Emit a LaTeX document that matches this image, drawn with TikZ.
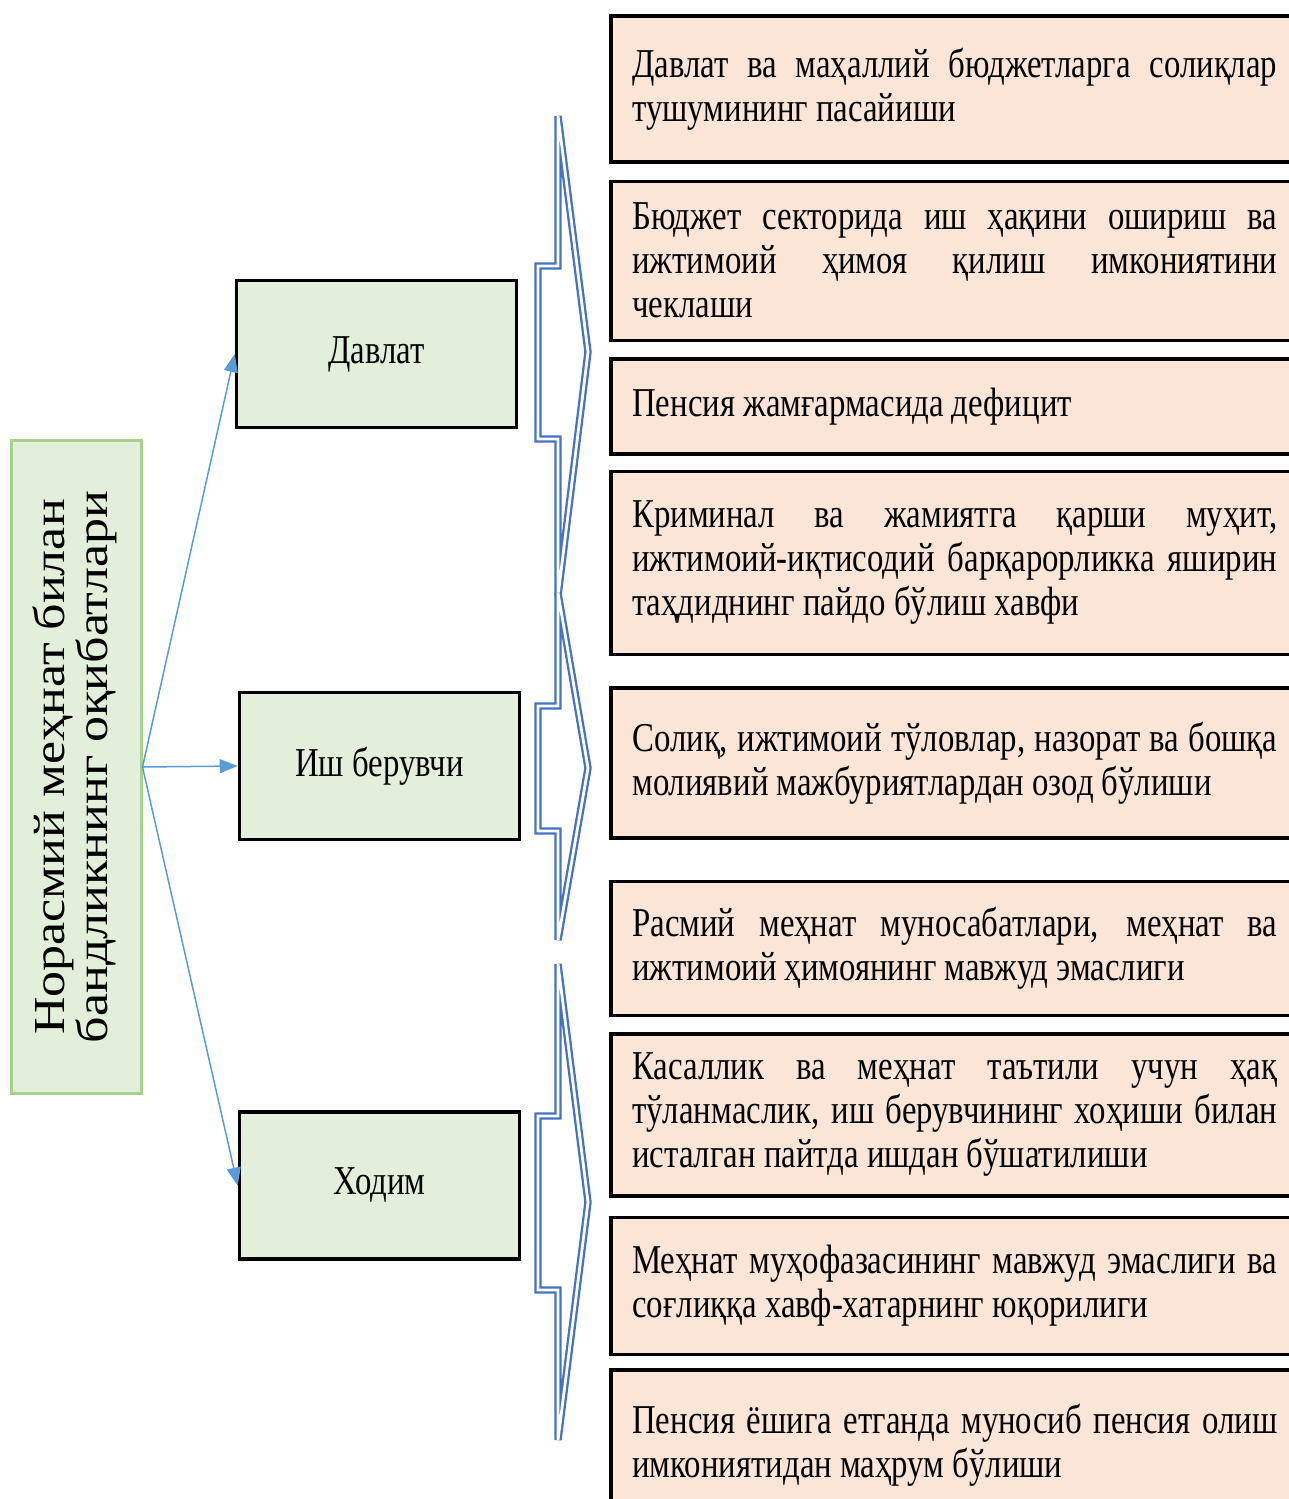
\documentclass[tikz,border=0pt]{standalone}
\usepackage{fontspec}
\setmainfont[FakeStretch=0.8]{Liberation Serif}
\newfontfamily\plainfont{Liberation Serif}
\usepackage{tikz}
\usetikzlibrary{arrows.meta,positioning}

\definecolor{peach}{HTML}{FBE5D6}
\definecolor{leaf}{HTML}{E2EFDA}
\definecolor{leafline}{HTML}{A9D18E}
\definecolor{arrowblue}{HTML}{5B9BD5}
\definecolor{braceblue}{HTML}{4472C4}

\begin{document}
\begin{tikzpicture}[x=1pt, y=-1pt, every node/.style={font=\fontsize{41}{44}\selectfont}]

\tikzstyle{root} = [rectangle, draw=leafline, line width=3pt, fill=leaf, rotate=90, minimum width=653pt, minimum height=130pt]
\tikzstyle{actor} = [rectangle, draw, line width=3.5pt, fill=leaf, minimum width=280pt, minimum height=147pt]
\tikzstyle{effect} = [rectangle, draw, line width=3.5pt, fill=peach, text width=645pt, align=justify, inner xsep=21.5pt]
\tikzstyle{arrow} = [draw=arrowblue, line width=1.5pt, -{Triangle[length=18pt,width=14pt]}]
\tikzstyle{chevron} = [draw=braceblue, line width=2.3pt, double=white, double distance=2.8pt]

\useasboundingbox (0,0) rectangle (1288,1499);

% Root
\node[root] (root) at (76,767) {\scalebox{1}[0.85]{\plainfont\fontsize{52}{46}\selectfont
  \begin{tabular}{@{}c@{}}Норасмий меҳнат билан\\бандликнинг оқибатлари\end{tabular}}};

% Actors
\node[actor] (davlat) at (376.5,354) {Давлат};
\node[actor] (ishber) at (379.5,766) {Иш берувчи};
\node[actor] (xodim) at (379.5,1185.5) {Ходим};

% Effects
\node[effect, anchor=north west, minimum height=146pt] (e1) at (609,14) {Давлат ва маҳаллий бюджетларга солиқлар\linebreak тушумининг пасайиши};
\node[effect, below=16pt of e1, minimum height=159pt] (e2) {Бюджет секторида иш ҳақини ошириш ва\linebreak ижтимоий ҳимоя қилиш имкониятини\linebreak чеклаши};
\node[effect, below=15pt of e2, minimum height=95pt] (e3) {Пенсия жамғармасида дефицит};
\node[effect, below=14pt of e3, minimum height=183pt] (e4) {Криминал ва жамиятга қарши муҳит,\linebreak ижтимоий-иқтисодий барқарорликка яширин\linebreak таҳдиднинг пайдо бўлиш хавфи};
\node[effect, below=30pt of e4, minimum height=150pt] (e5) {Солиқ, ижтимоий тўловлар, назорат ва бошқа\linebreak молиявий мажбуриятлардан озод бўлиши};
\node[effect, below=40pt of e5, minimum height=134pt] (e6) {Расмий меҳнат муносабатлари, меҳнат ва\linebreak ижтимоий ҳимоянинг мавжуд эмаслиги};
\node[effect, below=15pt of e6, minimum height=162pt] (e7) {Касаллик ва меҳнат таътили учун ҳақ\linebreak тўланмаслик, иш берувчининг хоҳиши билан\linebreak исталган пайтда ишдан бўшатилиши};
\node[effect, below=18pt of e7, minimum height=137pt] (e8) {Меҳнат муҳофазасининг мавжуд эмаслиги ва\linebreak соғлиққа хавф-хатарнинг юқорилиги};
\node[effect, below=12pt of e8, minimum height=150pt] (e9) {Пенсия ёшига етганда муносиб пенсия олиш\linebreak имкониятидан маҳрум бўлиши};

% Arrows
\draw[arrow] (root.south) -- (davlat.west);
\draw[arrow] (root.south) -- (ishber.west);
\draw[arrow] (root.south) -- (xodim.west);

% Chevrons
\draw[chevron] (558,116) -- (558,266) -- (538,266) -- (538,439) -- (558,439) -- (558,596) -- (588,352) -- cycle;
\draw[chevron] (558,593) -- (558,706) -- (538,706) -- (538,831) -- (558,831) -- (558,940) -- (588,768) -- cycle;
\draw[chevron] (558,964) -- (558,1116) -- (538,1116) -- (538,1290) -- (558,1290) -- (558,1440) -- (588,1202) -- cycle;

\end{tikzpicture}
\end{document}
